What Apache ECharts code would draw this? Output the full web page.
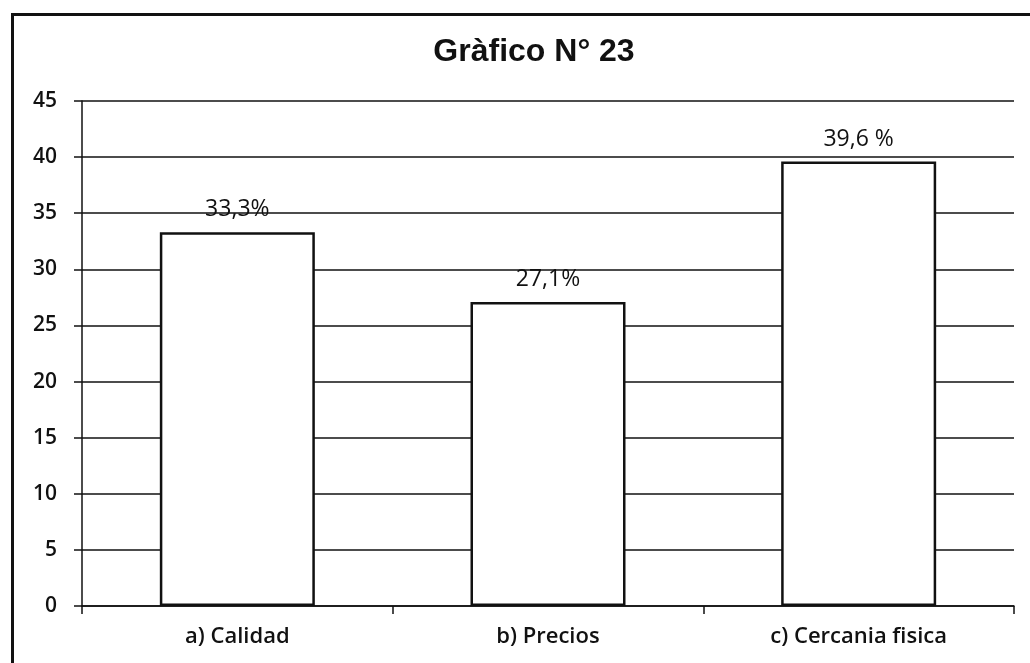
<!DOCTYPE html>
<html>
<head>
<meta charset="utf-8">
<script src="https://cdn.jsdelivr.net/npm/echarts@6/dist/echarts.min.js"></script>
<style>
  html, body { margin: 0; padding: 0; background: #fff; }
  #frame { position: absolute; left: 11px; top: 13px; width: 1030px; height: 700px; border-left: 3px solid #111; border-top: 3px solid #111; box-sizing: border-box; }
  #chart { position: absolute; left: 0; top: 0; width: 1030px; height: 663px; }
</style>
</head>
<body>
<div id="frame"></div>
<div id="chart"></div>
<script>
// Motivo de compra: porcentaje por categoría
const categories = ['a) Calidad', 'b) Precios', 'c) Cercania fisica'];
const values = [33.3, 27.1, 39.6];
const valueLabels = ['33,3%', '27,1%', '39,6 %'];
const yTicks = [0, 5, 10, 15, 20, 25, 30, 35, 40, 45];

const chart = echarts.init(document.getElementById('chart'));
chart.setOption({
  backgroundColor: 'transparent',
  animation: false,
  title: {
    text: 'Gràfico N° 23',
    left: 529,
    top: 31,
    textAlign: 'center',
    textStyle: { fontFamily: 'Liberation Sans', fontWeight: 'bold', fontSize: 32, color: '#111' }
  },
  grid: { left: 82, right: 16, top: 101, bottom: 57 },
  xAxis: {
    type: 'category',
    data: categories,
    axisLine: { lineStyle: { color: '#111', width: 1.5 } },
    axisTick: { show: true, length: 8, lineStyle: { color: '#111', width: 1.5 } },
    axisLabel: { fontFamily: 'Open Sans', fontSize: 22, fontWeight: 600, color: '#111', margin: 20 }
  },
  yAxis: {
    type: 'value',
    min: yTicks[0],
    max: yTicks[yTicks.length - 1],
    interval: 5,
    axisLine: { show: true, lineStyle: { color: '#111', width: 1.5 } },
    axisTick: { show: true, length: 8, lineStyle: { color: '#111', width: 1.5 } },
    axisLabel: { fontFamily: 'Open Sans', fontSize: 21, fontWeight: 600, color: '#111', margin: 25 },
    splitLine: { show: true, lineStyle: { color: '#111', width: 1.5 } }
  },
  series: [{
    type: 'bar',
    data: values,
    barWidth: 155,
    itemStyle: { color: '#fff', borderColor: '#111', borderWidth: 2.5 },
    label: {
      show: true,
      position: 'top',
      distance: 11,
      fontFamily: 'Open Sans',
      fontSize: 23,
      color: '#111',
      formatter: p => valueLabels[p.dataIndex]
    }
  }]
});
</script>
</body>
</html>
